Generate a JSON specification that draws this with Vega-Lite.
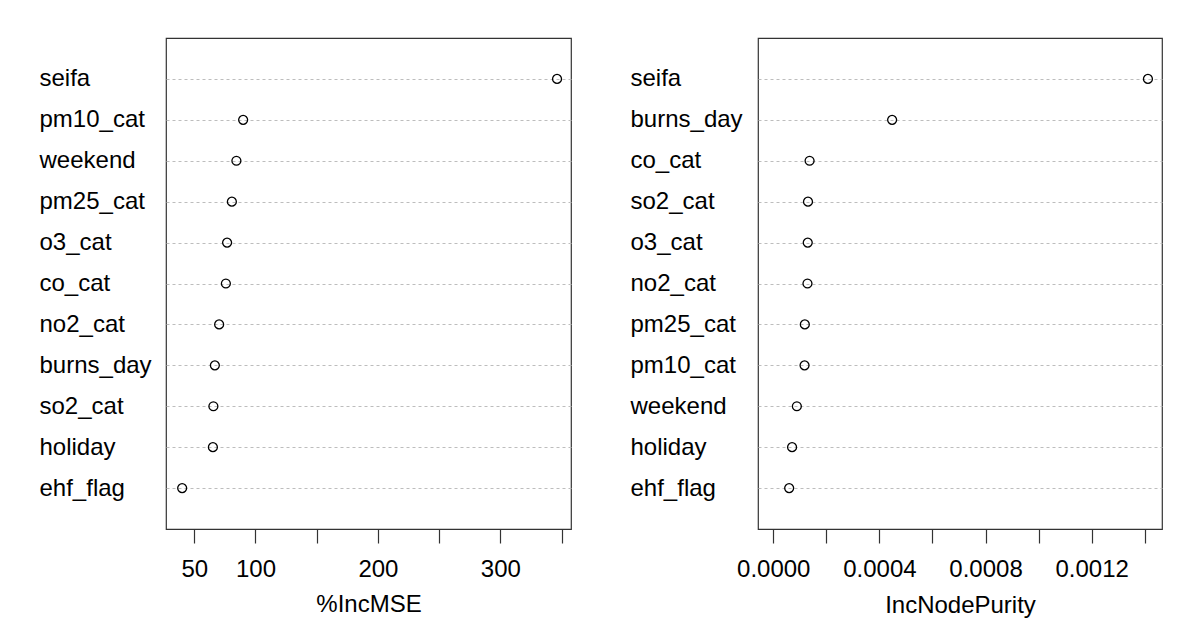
{
  "$schema": "https://vega.github.io/schema/vega-lite/v6.json",
  "padding": {"left": 38, "top": 37, "right": 0, "bottom": 0},
  "background": "white",
  "config": {
    "font": "Liberation Sans",
    "view": {"stroke": "#333333", "strokeWidth": 1.2},
    "concat": {"spacing": 57}
  },
  "datasets": {
    "mse": [
      {"var": "seifa", "value": 346.3},
      {"var": "pm10_cat", "value": 89.9},
      {"var": "weekend", "value": 84.4},
      {"var": "pm25_cat", "value": 80.7},
      {"var": "o3_cat", "value": 76.8},
      {"var": "co_cat", "value": 75.8},
      {"var": "no2_cat", "value": 70.3},
      {"var": "burns_day", "value": 66.8},
      {"var": "so2_cat", "value": 65.6},
      {"var": "holiday", "value": 65.2},
      {"var": "ehf_flag", "value": 40.1}
    ],
    "purity": [
      {"var": "seifa", "value": 0.001412},
      {"var": "burns_day", "value": 0.000448},
      {"var": "co_cat", "value": 0.000137},
      {"var": "so2_cat", "value": 0.000131},
      {"var": "o3_cat", "value": 0.00013},
      {"var": "no2_cat", "value": 0.000129},
      {"var": "pm25_cat", "value": 0.000119},
      {"var": "pm10_cat", "value": 0.000118},
      {"var": "weekend", "value": 0.000089},
      {"var": "holiday", "value": 0.000071},
      {"var": "ehf_flag", "value": 0.00006}
    ]
  },
  "resolve": {"scale": {"x": "independent", "y": "independent"}},
  "hconcat": [
    {
      "width": 405,
      "height": 491,
      "data": {"name": "mse"},
      "mark": {"type": "point", "shape": "circle", "filled": false, "stroke": "black", "strokeWidth": 1.3, "size": 80, "opacity": 1},
      "encoding": {
        "y": {
          "field": "var", "type": "nominal", "sort": null,
          "scale": {"type": "point", "padding": 1},
          "axis": {"title": null, "ticks": false, "tickSize": 0, "domain": false, "labelAlign": "left", "labelBaseline": "middle", "labelPadding": 127, "labelFontSize": 24, "labelColor": "black", "grid": true, "gridDash": [3, 3], "gridColor": "#bdbdbd", "gridWidth": 1}
        },
        "x": {
          "field": "value", "type": "quantitative",
          "scale": {"domain": [26.9, 357.7], "nice": false, "zero": false},
          "axis": {"title": "%IncMSE", "values": [50, 100, 150, 200, 250, 300, 350], "labelExpr": "(datum.value == 50 || datum.value == 100 || datum.value == 200 || datum.value == 300) ? datum.label : ''", "grid": false, "domain": false, "tickSize": 14, "tickColor": "#333333", "tickWidth": 1.2, "labelPadding": 14, "labelFontSize": 24, "labelColor": "black", "labelFlush": false, "labelOverlap": false, "titleFontSize": 24, "titleFontWeight": "normal", "titleColor": "black", "titlePadding": 11}
        }
      }
    },
    {
      "width": 404,
      "height": 491,
      "data": {"name": "purity"},
      "mark": {"type": "point", "shape": "circle", "filled": false, "stroke": "black", "strokeWidth": 1.3, "size": 80, "opacity": 1},
      "encoding": {
        "y": {
          "field": "var", "type": "nominal", "sort": null,
          "scale": {"type": "point", "padding": 1},
          "axis": {"title": null, "ticks": false, "tickSize": 0, "domain": false, "labelAlign": "left", "labelBaseline": "middle", "labelPadding": 128, "labelFontSize": 24, "labelColor": "black", "grid": true, "gridDash": [3, 3], "gridColor": "#bdbdbd", "gridWidth": 1}
        },
        "x": {
          "field": "value", "type": "quantitative",
          "scale": {"domain": [-0.0000574, 0.001465], "nice": false, "zero": false},
          "axis": {"title": "IncNodePurity", "values": [0, 0.0002, 0.0004, 0.0006, 0.0008, 0.001, 0.0012, 0.0014], "labelExpr": "round(datum.value * 10000) % 4 == 0 ? format(datum.value, '.4f') : ''", "grid": false, "domain": false, "tickSize": 14, "tickColor": "#333333", "tickWidth": 1.2, "labelPadding": 14, "labelFontSize": 24, "labelColor": "black", "labelFlush": false, "labelOverlap": false, "titleFontSize": 24, "titleFontWeight": "normal", "titleColor": "black", "titlePadding": 12}
        }
      }
    }
  ]
}
